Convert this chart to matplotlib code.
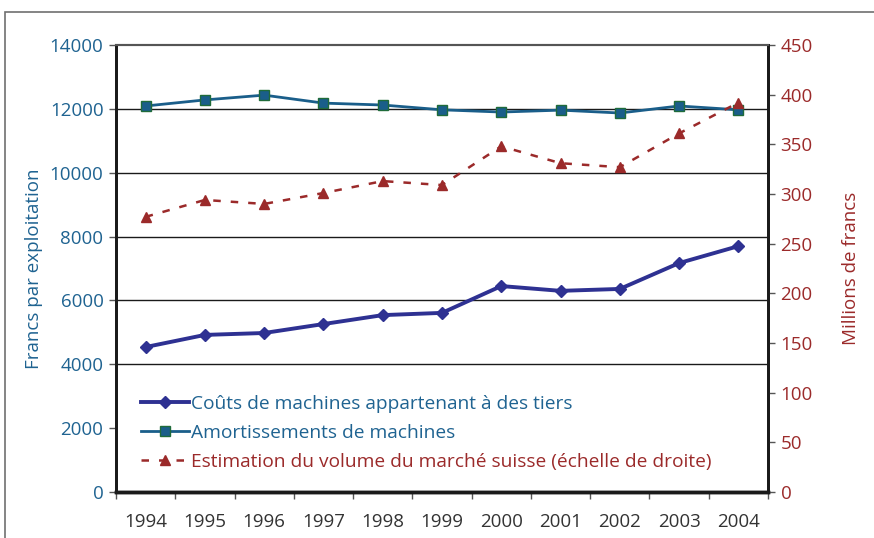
import matplotlib
matplotlib.use("Agg")
import matplotlib.pyplot as plt
from matplotlib.lines import Line2D
from matplotlib.patches import Rectangle
import numpy as np

plt.rcParams['font.family'] = ['Open Sans', 'DejaVu Sans']

years = ['1994', '1995', '1996', '1997', '1998', '1999', '2000', '2001', '2002', '2003', '2004']
couts = [4540, 4920, 4980, 5260, 5540, 5610, 6450, 6300, 6360, 7170, 7700]
amort = [12090, 12280, 12430, 12180, 12120, 11970, 11900, 11960, 11870, 12090, 11970]
marche = [277, 294, 290, 301, 313, 309, 348, 331, 327, 361, 392]

left_ticks = [0, 2000, 4000, 6000, 8000, 10000, 12000, 14000]
grid_values = [4000, 6000, 8000, 10000, 12000]
right_ticks = [0, 50, 100, 150, 200, 250, 300, 350, 400, 450]

c_couts = '#2e3192'
c_amort = '#1a5e8a'
c_amort_edge = '#1f6b3a'
c_marche = '#9b2a2a'
c_left = '#1f6391'
c_right = '#9b2a2a'
c_x = '#333333'

fig = plt.figure(figsize=(8.74, 5.38), dpi=100)
# outer frame
fig.patches.append(Rectangle((5/874, -0.1), 1.2, (538-12)/538 + 0.1, transform=fig.transFigure,
                             fill=False, edgecolor='#707070', linewidth=1.2))

ax = fig.add_axes([116/874, 1-492/538, (768-116)/874, (492-45)/538])
ax2 = ax.twinx()

x = np.arange(len(years))
ax.set_xlim(-0.5, len(years)-0.5)
ax.set_ylim(0, 14000)
ax2.set_ylim(0, 450)

for v in grid_values:
    ax.axhline(v, color='#1a1a1a', linewidth=1.0, zorder=1)

ax.plot(x, couts, color=c_couts, linewidth=2.8, marker='D', markersize=6.5,
        markerfacecolor=c_couts, markeredgecolor=c_couts, zorder=4)
ax.plot(x, amort, color=c_amort, linewidth=2.0, marker='s', markersize=7,
        markerfacecolor=c_amort, markeredgecolor=c_amort_edge, markeredgewidth=1.0, zorder=4)
ax2.plot(x, marche, color=c_marche, linewidth=1.8, linestyle=(0, (3, 4)), marker='^', markersize=7,
         markerfacecolor=c_marche, markeredgecolor=c_marche, zorder=4)

ax.set_xticks(x)
ax.set_xticklabels(years)
ax.set_xticks(np.arange(-0.5, len(years), 1), minor=True)
ax.tick_params(axis='x', which='major', length=0, labelsize=13.5, labelcolor=c_x, pad=15)
ax.tick_params(axis='x', which='minor', length=5, width=1, color='#555555', direction='out')

ax.set_yticks(left_ticks)
ax.tick_params(axis='y', length=5, width=1, color='#555555', labelsize=13.5, labelcolor=c_left, pad=4)
ax2.set_yticks(right_ticks)
ax2.tick_params(axis='y', length=5, width=1, color='#555555', labelsize=13.5, labelcolor=c_right, pad=4)

for a in (ax, ax2):
    a.spines['top'].set_color('#555555')
    a.spines['top'].set_linewidth(1.5)
    a.spines['left'].set_color('#1a1a1a')
    a.spines['left'].set_linewidth(2.0)
    a.spines['right'].set_color('#1a1a1a')
    a.spines['right'].set_linewidth(2.0)
    a.spines['bottom'].set_color('#1a1a1a')
    a.spines['bottom'].set_linewidth(2.5)

ax.set_ylabel('Francs par exploitation', color=c_left, fontsize=13.5, labelpad=5)
ax2.set_ylabel('Millions de francs', color=c_right, fontsize=13.5, labelpad=21, rotation=90)

handles = [
    Line2D([], [], color=c_couts, linewidth=2.8, marker='D', markersize=6.5),
    Line2D([], [], color=c_amort, linewidth=2.0, marker='s', markersize=7,
           markeredgecolor=c_amort_edge),
    Line2D([], [], color=c_marche, linewidth=1.8, linestyle=(0, (3, 4)), marker='^', markersize=7),
]
labels = ['Coûts de machines appartenant à des tiers',
          'Amortissements de machines',
          'Estimation du volume du marché suisse (échelle de droite)']
leg = ax.legend(handles, labels, loc='lower left', bbox_to_anchor=(0.026, 0.03), frameon=False,
                fontsize=13.8, handlelength=2.5, handletextpad=0.15, labelspacing=0.58, borderaxespad=0)
for t, c in zip(leg.get_texts(), [c_left, c_left, c_right]):
    t.set_color(c)

fig.savefig('out.png', dpi=100)
